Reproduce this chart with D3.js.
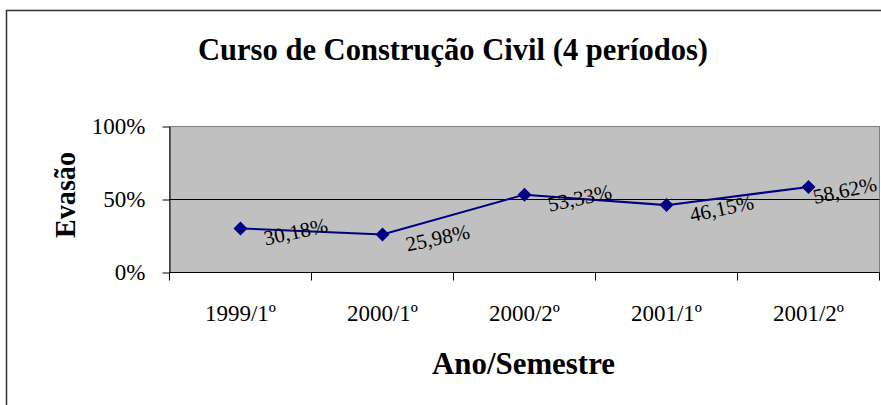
<!DOCTYPE html>
<html><head><meta charset="utf-8">
<script src="https://cdn.jsdelivr.net/npm/d3@7"></script>
<style>
html,body{margin:0;padding:0;background:#fff;}
svg{display:block;font-family:"Liberation Serif","Times New Roman",serif;}
</style></head>
<body>
<svg id="chart" width="881" height="405"></svg>
<script>
const categories = ["1999/1º","2000/1º","2000/2º","2001/1º","2001/2º"];
const values = [30.18, 25.98, 53.33, 46.15, 58.62];
const valueLabels = ["30,18%","25,98%","53,33%","46,15%","58,62%"];
const yTicks = [0, 50, 100];
const yTickLabels = ["0%","50%","100%"];
const title = "Curso de Construção Civil (4 períodos)";
const xTitle = "Ano/Semestre";
const yTitle = "Evasão";

const svg = d3.select("#chart");
const W = 881;
const L = 169.5, R = 879.5, T = 126.5, B = 272.5;

// outer frame
svg.append("rect").attr("x",6.5).attr("y",10.5).attr("width",900).attr("height",420)
  .attr("fill","none").attr("stroke","#333").attr("stroke-width",1.5);

const x = d3.scaleBand().domain(categories).range([L,R]).padding(0);
const y = d3.scaleLinear().domain([0,100]).range([B,T]);

// plot area
svg.append("rect").attr("x",L).attr("y",T).attr("width",R-L).attr("height",B-T)
  .attr("fill","#c0c0c0").attr("stroke","#808080").attr("stroke-width",1);

// gridlines
svg.append("g").selectAll("line").data(yTicks.filter(v=>v>0 && v<100)).join("line")
  .attr("x1",L).attr("x2",R).attr("y1",d=>y(d)).attr("y2",d=>y(d))
  .attr("stroke","#000").attr("stroke-width",1);

// y axis
const yAxis = svg.append("g").attr("transform",`translate(${L},0)`)
  .call(d3.axisLeft(y).tickValues(yTicks).tickSize(7).tickPadding(17).tickSizeOuter(0)
    .tickFormat((d,i)=>yTickLabels[i]));
yAxis.select(".domain").attr("stroke","#000");
yAxis.selectAll(".tick line").attr("stroke","#000");
yAxis.selectAll("text").attr("font-family","Liberation Serif").attr("font-size",23).attr("fill","#000");

// x axis line + ticks at band boundaries
svg.append("line").attr("x1",L).attr("x2",R).attr("y1",B).attr("y2",B).attr("stroke","#000");
const bounds = categories.map(c=>x(c)).concat([x(categories[categories.length-1])+x.bandwidth()]);
svg.append("g").selectAll("line").data(bounds).join("line")
  .attr("x1",d=>d).attr("x2",d=>d).attr("y1",B).attr("y2",B+8).attr("stroke","#000");
svg.append("g").selectAll("text").data(categories).join("text")
  .attr("x",d=>x(d)+x.bandwidth()/2).attr("y",321)
  .attr("text-anchor","middle").attr("font-size",23).attr("fill","#000").text(d=>d);

// line
const cx = d=>x(d)+x.bandwidth()/2;
const line = d3.line().x((d,i)=>cx(categories[i])).y(d=>y(d));
svg.append("path").datum(values).attr("d",line)
  .attr("fill","none").attr("stroke","#000080").attr("stroke-width",2);

// markers (diamonds)
svg.append("g").selectAll("path").data(values).join("path")
  .attr("d",d3.symbol().type(d3.symbolSquare).size(98))
  .attr("transform",(d,i)=>`translate(${cx(categories[i])},${y(d)}) rotate(45)`)
  .attr("fill","#000080");

// data labels (shifted left when they would run past the right edge)
const labels = svg.append("g").selectAll("text").data(values).join("text")
  .attr("font-size",21).attr("fill","#000").text((d,i)=>valueLabels[i]);
labels.each(function(d,i){
  const sel = d3.select(this);
  let lx = cx(categories[i]) + 25;
  const ly = y(d) + 17;
  sel.attr("transform",`translate(${lx},${ly}) rotate(-12)`);
  const r = this.getBoundingClientRect();
  if (r.right > W - 2) {
    lx -= (r.right - (W - 2));
    sel.attr("transform",`translate(${lx},${ly}) rotate(-12)`);
  }
});

// titles
svg.append("text").attr("x",453).attr("y",60).attr("text-anchor","middle")
  .attr("font-size",31).attr("font-weight","bold").attr("fill","#000")
  .attr("textLength",510).attr("lengthAdjust","spacingAndGlyphs").text(title);
svg.append("text").attr("x",523.5).attr("y",374).attr("text-anchor","middle")
  .attr("font-size",31).attr("font-weight","bold").attr("fill","#000")
  .attr("textLength",183).attr("lengthAdjust","spacingAndGlyphs").text(xTitle);
svg.append("text").attr("transform","translate(75,195) rotate(-90)").attr("text-anchor","middle")
  .attr("font-size",30).attr("font-weight","bold").attr("fill","#000")
  .attr("textLength",86).attr("lengthAdjust","spacingAndGlyphs").text(yTitle);
</script>
</body></html>
